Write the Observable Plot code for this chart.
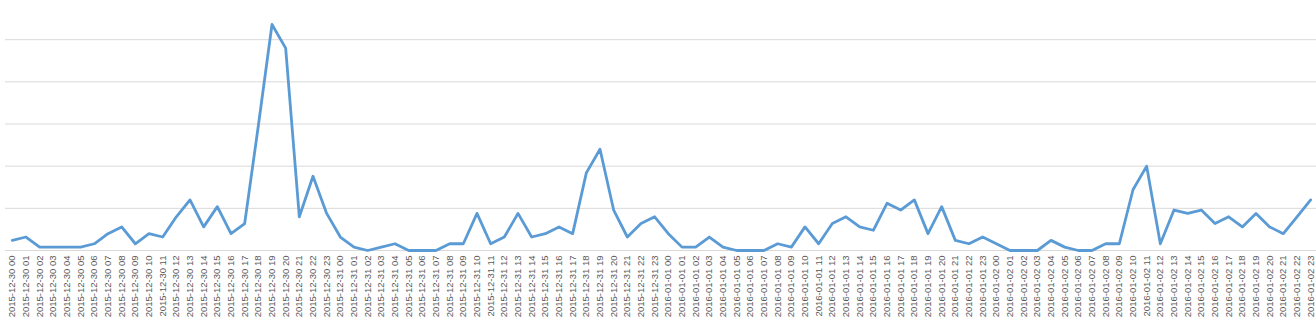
<!DOCTYPE html>
<html>
<head>
<meta charset="utf-8">
<script src="https://cdn.jsdelivr.net/npm/d3@7"></script>
<script src="https://cdn.jsdelivr.net/npm/@observablehq/plot@0.6"></script>
<style>
  html, body { margin: 0; padding: 0; background: #ffffff; }
  #chart svg { display: block; }
</style>
</head>
<body>
<div id="chart"></div>
<script>
const days = ["2015-12-30", "2015-12-31", "2016-01-01", "2016-01-02"];
const hours = ["00","01","02","03","04","05","06","07","08","09","10","11","12","13","14","15","16","17","18","19","20","21","22","23"];
const labels = days.flatMap(d => hours.map(h => `${d} ${h}`));

const values = [
  12, 16, 4, 4, 4, 4, 8, 20, 28, 8, 20, 16, 40, 60, 28, 52, 20, 32, 148, 268, 240, 40, 88, 44,
  16, 4, 0, 4, 8, 0, 0, 0, 8, 8, 44, 8, 16, 44, 16, 20, 28, 20, 92, 120, 48, 16, 32, 40,
  20, 4, 4, 16, 4, 0, 0, 0, 8, 4, 28, 8, 32, 40, 28, 24, 56, 48, 60, 20, 52, 12, 8, 16,
  8, 0, 0, 0, 12, 4, 0, 0, 8, 8, 72, 100, 8, 48, 44, 48, 32, 40, 28, 44, 28, 20, 40, 60
];
const gridValues = [50, 100, 150, 200, 250, 300];

const data = labels.map((label, i) => ({label, value: values[i]}));

const chart = Plot.plot({
  width: 1316,
  height: 321,
  marginLeft: 5,
  marginRight: 0,
  marginTop: 0,
  marginBottom: 71,
  style: {background: "#ffffff", fontFamily: "Liberation Sans, Arial, sans-serif"},
  x: {type: "point", domain: labels, padding: 0.5, range: [5, 1317], axis: null},
  y: {domain: [0, 300], range: [250, -3], axis: null},
  marks: [
    Plot.ruleY(gridValues, {stroke: "#d9d9d9", strokeWidth: 1}),
    Plot.ruleY([0], {stroke: "#d9d9d9", strokeWidth: 1}),
    Plot.axisX({tickRotate: -90, tickSize: 0, tickPadding: 5, fontSize: 9.5, fill: "#595959", label: null}),
    Plot.line(data, {x: "label", y: "value", stroke: "#5b9bd5", strokeWidth: 2.8, strokeLinejoin: "round", strokeLinecap: "round"})
  ]
});
document.getElementById("chart").appendChild(chart);
</script>
</body>
</html>
